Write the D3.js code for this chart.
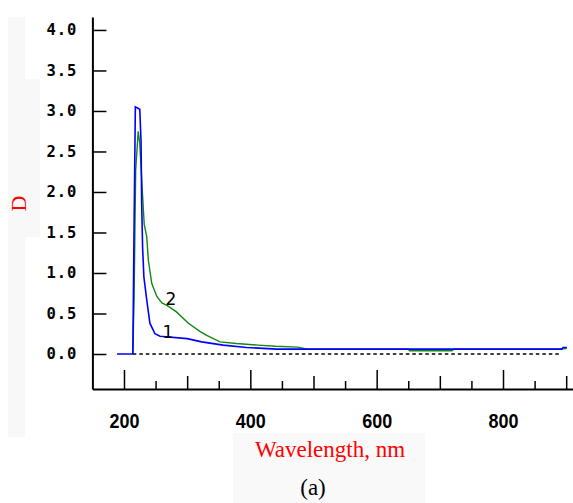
<!DOCTYPE html>
<html>
<head>
<meta charset="utf-8">
<script src="https://cdn.jsdelivr.net/npm/d3@7"></script>
<style>
  body { margin: 0; background: #fff; }
  svg { display: block; }
  .ytick text { font-family: "DejaVu Sans Mono", monospace; font-weight: bold; font-size: 15.5px; letter-spacing: 1px; }
  .xtick text { font-family: "Liberation Sans", Arial, sans-serif; font-weight: bold; font-size: 20px; }
</style>
</head>
<body>
<div id="chart"></div>
<script>
// absorbance spectra, wavelength (nm) vs optical density D
const wl1 = [189, 214, 216, 218, 225, 227, 228, 229.5, 231.5, 236, 241, 249, 257, 300, 323, 357, 394, 442, 893, 895, 901];
const d1  = [0, 0, 1.6, 3.05, 3.02, 2.62, 1.86, 1.31, 0.95, 0.67, 0.38, 0.25, 0.22, 0.19, 0.15, 0.11, 0.08, 0.06, 0.06, 0.08, 0.08];

const wl2 = [214, 216, 218.5, 222.5, 225, 229.5, 232, 236, 238.5, 244, 252, 260, 268, 283, 302, 320, 331, 352, 378, 412, 440, 475, 490, 650, 652, 719, 722, 893, 901];
const d2  = [0, 0.7, 2.27, 2.75, 2.6, 1.95, 1.6, 1.45, 1.16, 0.87, 0.71, 0.63, 0.6, 0.52, 0.38, 0.28, 0.23, 0.15, 0.13, 0.11, 0.095, 0.085, 0.06, 0.06, 0.04, 0.04, 0.06, 0.06, 0.07];

const xMajor = [200, 400, 600, 800];
const xMedium = [300, 500, 700, 900];
const xMinor = [250, 350, 450, 550, 650, 750, 850];
const yTicks = [0, 0.5, 1, 1.5, 2, 2.5, 3, 3.5, 4];
const zeroLine = [214, 893];

const width = 573, height = 503;

const svg = d3.select('#chart').append('svg')
  .attr('width', width)
  .attr('height', height);

// faint grey patches left behind in the original figure
svg.append('rect').attr('x', 8).attr('y', 17).attr('width', 17).attr('height', 420).attr('fill', '#f8f8f8');
svg.append('rect').attr('x', 25).attr('y', 79).attr('width', 15).attr('height', 158).attr('fill', '#f8f8f8');
svg.append('rect').attr('x', 233).attr('y', 433).attr('width', 192).attr('height', 70).attr('fill', '#f9f9f9');

const x = d3.scaleLinear().domain([150, 910]).range([92.4, 572.5]);
const y = d3.scaleLinear().domain([-0.432, 4.16]).range([389, 17]);

// x axis: three tick lengths, labels on the big ones only
function xAxis(values, size, labels) {
  const g = svg.append('g')
    .attr('class', 'xtick')
    .attr('transform', 'translate(0,' + y.range()[0] + ')')
    .call(d3.axisBottom(x).tickValues(values).tickSizeInner(-size).tickSizeOuter(0)
      .tickPadding(25).tickFormat(labels ? d3.format('d') : ''));
  g.selectAll('line').attr('stroke', '#000').attr('stroke-width', 1.5);
  g.selectAll('text').attr('fill', '#000').attr('textLength', 30).attr('lengthAdjust', 'spacingAndGlyphs');
  return g;
}
const gx = xAxis(xMajor, 19, true);
gx.select('.domain').attr('stroke', '#000').attr('stroke-width', 2);
xAxis(xMedium, 13, false).select('.domain').remove();
xAxis(xMinor, 8, false).select('.domain').remove();

const gy = svg.append('g')
  .attr('class', 'ytick')
  .attr('transform', 'translate(' + x.range()[0] + ',0)')
  .call(d3.axisLeft(y).tickValues(yTicks).tickSizeInner(-14).tickSizeOuter(0)
    .tickPadding(15).tickFormat(d3.format('.1f')));
gy.select('.domain').attr('stroke', '#000').attr('stroke-width', 2);
gy.selectAll('line').attr('stroke', '#000').attr('stroke-width', 1.5);
gy.selectAll('text').attr('fill', '#000');

// dashed zero line
svg.append('line')
  .attr('x1', x(zeroLine[0])).attr('x2', x(zeroLine[1]))
  .attr('y1', y(0)).attr('y2', y(0))
  .attr('stroke', '#000').attr('stroke-width', 1.5)
  .attr('stroke-dasharray', '3.5,3');

const line = d3.line().x(d => x(d[0])).y(d => y(d[1]));

svg.append('path')
  .datum(d3.zip(wl2, d2))
  .attr('d', line)
  .attr('fill', 'none')
  .attr('stroke', '#118811')
  .attr('stroke-width', 1.4);

svg.append('path')
  .datum(d3.zip(wl1, d1))
  .attr('d', line)
  .attr('fill', 'none')
  .attr('stroke', '#0000ff')
  .attr('stroke-width', 1.6);

// curve numbers
svg.append('text')
  .attr('x', x(269.7)).attr('y', y(0.2))
  .attr('text-anchor', 'middle')
  .attr('font-family', 'DejaVu Sans, sans-serif')
  .attr('font-size', 17)
  .text('1');
svg.append('text')
  .attr('x', x(274.4)).attr('y', y(0.605))
  .attr('text-anchor', 'middle')
  .attr('font-family', 'DejaVu Sans, sans-serif')
  .attr('font-size', 17)
  .text('2');

// axis titles
svg.append('text')
  .attr('transform', 'translate(26,203.5) rotate(-90)')
  .attr('text-anchor', 'middle')
  .attr('font-family', 'Liberation Serif, Times New Roman, serif')
  .attr('font-size', 22)
  .attr('fill', '#ff0000')
  .text('D');

svg.append('text')
  .attr('x', 330).attr('y', 457)
  .attr('text-anchor', 'middle')
  .attr('font-family', 'Liberation Serif, Times New Roman, serif')
  .attr('font-size', 23)
  .attr('fill', '#ff0000')
  .text('Wavelength, nm');

svg.append('text')
  .attr('x', 313).attr('y', 495)
  .attr('text-anchor', 'middle')
  .attr('font-family', 'Liberation Serif, Times New Roman, serif')
  .attr('font-size', 23)
  .attr('fill', '#000')
  .text('(a)');
</script>
</body>
</html>
